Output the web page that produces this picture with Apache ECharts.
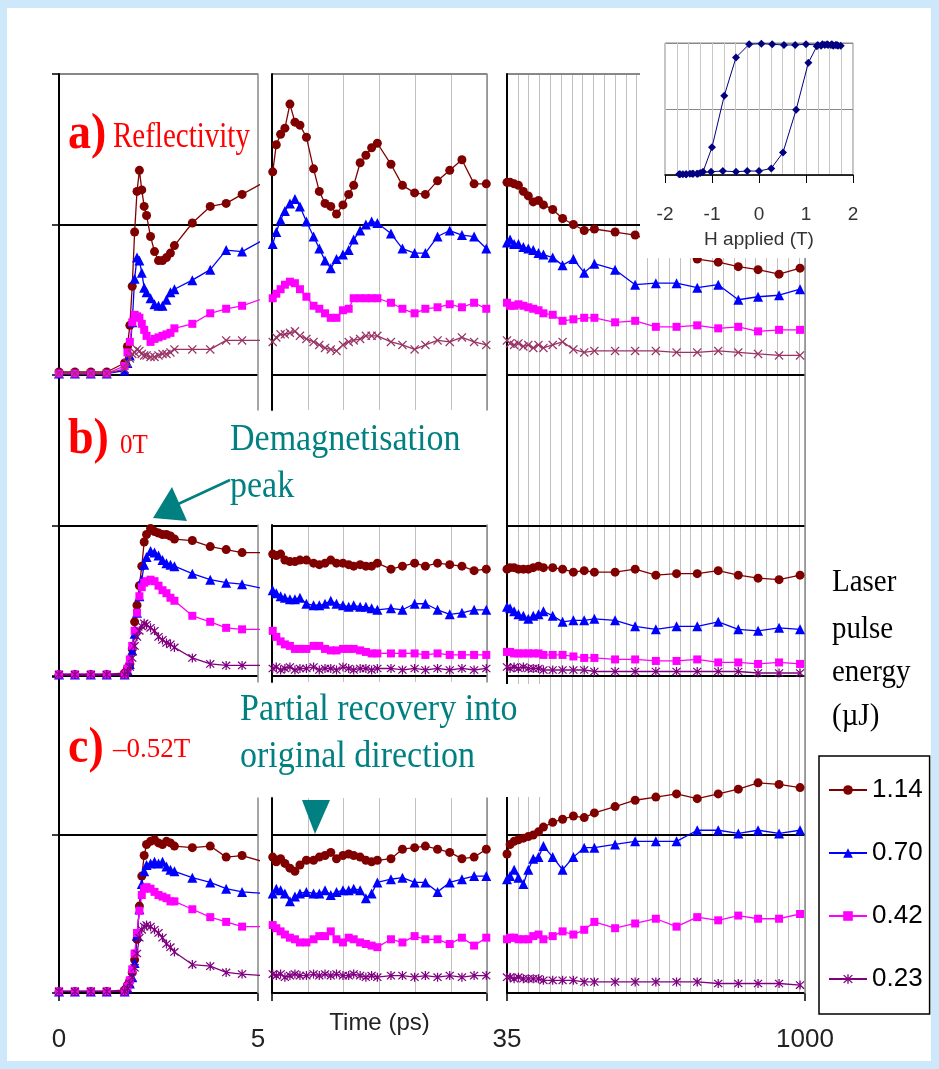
<!DOCTYPE html>
<html><head><meta charset="utf-8">
<script src="https://cdn.jsdelivr.net/npm/echarts@6/dist/echarts.min.js"></script>
<style>
html,body{margin:0;padding:0;background:#cde8fa;width:939px;height:1069px;overflow:hidden;}
#frame{position:absolute;left:7px;top:8px;width:924px;height:1053px;background:#fff;}
#chart{position:absolute;left:0;top:0;width:939px;height:1069px;}
</style></head><body><div id="frame"></div><div id="chart"></div>
<script>
// ---------------- DATA ----------------
const energies = ['1.14','0.70','0.42','0.23'];
// time samples (ps) for the three x segments
const T1 = [0,0.4,0.8,1.2,1.65,1.72,1.78,1.84,1.9,1.96,2.02,2.08,2.14,2.2,2.3,2.4,2.5,2.6,2.7,2.8,2.9,3.35,3.8,4.2,4.6,5.15];
const T2 = [5.1,5.6,6.2,6.8,7.5,8.2,8.9,9.8,10.8,11.6,12.4,13.2,14.0,14.9,15.7,16.4,17.3,18.1,18.9,19.7,21.6,23.2,24.9,26.4,28.1,29.8,31.5,33.2,34.9];
const T3 = [35,45,58,72,88,104,120,137,153,183,215,250,285,318,385,450,517,584,651,719,784,848,916,984];
const xTickLabels = [[0,5],[],[35,1000]];
// panel a) Reflectivity
const a1_114 = [0.02,0.02,0.02,0.02,0.08,0.19,0.33,0.59,0.95,1.22,1.36,1.23,1.12,1.06,0.92,0.82,0.76,0.76,0.78,0.81,0.86,1.01,1.12,1.14,1.20,1.28];
const a1_070 = [0.01,0.01,0.01,0.01,0.03,0.08,0.13,0.35,0.64,0.78,0.76,0.68,0.58,0.55,0.51,0.47,0.46,0.46,0.50,0.55,0.57,0.63,0.70,0.83,0.82,0.90];
const a1_042 = [0.01,0.01,0.01,0.01,0.06,0.15,0.22,0.35,0.40,0.39,0.38,0.34,0.30,0.26,0.22,0.24,0.25,0.26,0.27,0.28,0.31,0.34,0.41,0.44,0.46,0.51];
const a1_023 = [0.01,0.01,0.01,0.01,0.04,0.08,0.11,0.14,0.15,0.17,0.16,0.14,0.13,0.13,0.12,0.12,0.13,0.14,0.14,0.15,0.17,0.17,0.17,0.23,0.23,0.23];
const a2_114 = [1.35,1.53,1.60,1.64,1.80,1.68,1.66,1.58,1.37,1.22,1.14,1.12,1.07,1.13,1.20,1.26,1.41,1.46,1.51,1.54,1.40,1.26,1.21,1.20,1.29,1.36,1.43,1.27,1.27];
const a2_070 = [0.87,0.95,1.03,1.09,1.14,1.17,1.12,1.02,0.92,0.84,0.76,0.71,0.77,0.80,0.83,0.90,0.96,1.00,1.02,1.01,0.94,0.84,0.81,0.81,0.92,0.96,0.93,0.92,0.84];
const a2_042 = [0.51,0.54,0.57,0.60,0.62,0.61,0.57,0.52,0.46,0.44,0.41,0.38,0.38,0.43,0.44,0.51,0.51,0.51,0.51,0.51,0.48,0.44,0.41,0.44,0.45,0.47,0.45,0.48,0.44];
const a2_023 = [0.22,0.25,0.27,0.27,0.28,0.29,0.26,0.24,0.22,0.20,0.18,0.17,0.16,0.20,0.22,0.23,0.24,0.26,0.26,0.26,0.22,0.20,0.17,0.20,0.23,0.22,0.25,0.22,0.20];
const a3_114 = [1.28,1.28,1.27,1.26,1.22,1.19,1.15,1.16,1.13,1.10,1.04,1.00,0.96,0.97,0.95,0.93,0.88,0.82,0.77,0.75,0.72,0.70,0.67,0.71];
const a3_070 = [0.88,0.90,0.87,0.87,0.85,0.84,0.83,0.81,0.80,0.78,0.73,0.77,0.68,0.74,0.70,0.60,0.61,0.61,0.58,0.60,0.50,0.52,0.53,0.57];
const a3_042 = [0.48,0.46,0.46,0.47,0.46,0.45,0.44,0.43,0.41,0.40,0.36,0.37,0.38,0.38,0.35,0.36,0.32,0.32,0.33,0.31,0.32,0.29,0.30,0.30];
const a3_023 = [0.23,0.21,0.20,0.21,0.19,0.20,0.18,0.20,0.18,0.20,0.22,0.17,0.15,0.16,0.16,0.16,0.16,0.15,0.15,0.16,0.15,0.14,0.13,0.13];
// panel b) 0T
const b1_114 = [0.01,0.01,0.01,0.01,0.02,0.05,0.08,0.18,0.36,0.47,0.60,0.73,0.89,0.94,0.98,0.96,0.95,0.94,0.94,0.93,0.91,0.90,0.86,0.84,0.82,0.82];
const b1_070 = [0.01,0.01,0.01,0.01,0.01,0.04,0.08,0.17,0.28,0.42,0.53,0.64,0.74,0.79,0.83,0.82,0.80,0.77,0.75,0.74,0.73,0.68,0.64,0.62,0.61,0.58];
const b1_042 = [0.01,0.01,0.01,0.01,0.01,0.05,0.11,0.20,0.30,0.42,0.53,0.59,0.62,0.63,0.64,0.63,0.60,0.57,0.55,0.52,0.50,0.40,0.36,0.32,0.31,0.31];
const b1_023 = [0.01,0.01,0.01,0.01,0.01,0.03,0.06,0.12,0.20,0.26,0.30,0.33,0.35,0.34,0.32,0.30,0.26,0.24,0.22,0.21,0.19,0.12,0.08,0.07,0.07,0.07];
const b2_114 = [0.81,0.80,0.81,0.77,0.76,0.76,0.77,0.77,0.75,0.74,0.75,0.77,0.75,0.75,0.74,0.73,0.74,0.73,0.73,0.75,0.71,0.73,0.75,0.73,0.75,0.74,0.73,0.70,0.71];
const b2_070 = [0.57,0.55,0.53,0.52,0.51,0.51,0.52,0.48,0.47,0.47,0.48,0.50,0.48,0.47,0.46,0.47,0.46,0.46,0.45,0.44,0.45,0.44,0.48,0.48,0.44,0.41,0.42,0.44,0.44];
const b2_042 = [0.30,0.26,0.23,0.21,0.20,0.18,0.18,0.18,0.20,0.20,0.18,0.17,0.17,0.18,0.18,0.18,0.17,0.16,0.15,0.15,0.15,0.15,0.15,0.14,0.15,0.14,0.14,0.14,0.14];
const b2_023 = [0.05,0.06,0.04,0.05,0.06,0.04,0.05,0.05,0.06,0.04,0.05,0.05,0.04,0.06,0.05,0.04,0.05,0.05,0.04,0.05,0.05,0.04,0.05,0.04,0.05,0.04,0.05,0.04,0.05];
const b3_114 = [0.71,0.72,0.72,0.71,0.71,0.71,0.72,0.73,0.72,0.72,0.71,0.69,0.70,0.69,0.69,0.71,0.67,0.68,0.68,0.70,0.67,0.65,0.64,0.67];
const b3_070 = [0.46,0.45,0.43,0.41,0.40,0.38,0.40,0.41,0.43,0.40,0.36,0.37,0.37,0.38,0.37,0.33,0.31,0.33,0.33,0.36,0.31,0.30,0.32,0.31];
const b3_042 = [0.16,0.16,0.15,0.15,0.15,0.15,0.15,0.15,0.14,0.14,0.14,0.13,0.12,0.12,0.11,0.11,0.10,0.10,0.11,0.09,0.09,0.08,0.09,0.08];
const b3_023 = [0.06,0.05,0.06,0.05,0.06,0.05,0.05,0.05,0.04,0.04,0.04,0.04,0.04,0.03,0.03,0.03,0.03,0.03,0.03,0.03,0.03,0.02,0.02,0.02];
// panel c) -0.52T
const c1_114 = [0.01,0.01,0.01,0.01,0.02,0.05,0.08,0.13,0.21,0.34,0.55,0.74,0.87,0.94,0.96,0.97,0.95,0.94,0.96,0.95,0.93,0.92,0.93,0.86,0.87,0.83];
const c1_070 = [0.01,0.01,0.01,0.01,0.01,0.03,0.06,0.10,0.19,0.36,0.53,0.69,0.77,0.81,0.82,0.83,0.82,0.83,0.80,0.78,0.77,0.73,0.70,0.66,0.64,0.63];
const c1_042 = [0.01,0.01,0.01,0.01,0.01,0.04,0.08,0.15,0.25,0.38,0.52,0.62,0.66,0.67,0.66,0.64,0.62,0.61,0.60,0.58,0.58,0.53,0.48,0.45,0.42,0.42];
const c1_023 = [0.01,0.01,0.01,0.01,0.01,0.03,0.06,0.10,0.16,0.25,0.35,0.40,0.42,0.43,0.42,0.40,0.38,0.35,0.31,0.29,0.26,0.18,0.17,0.13,0.12,0.11];
const c2_114 = [0.86,0.83,0.85,0.82,0.79,0.77,0.81,0.84,0.84,0.86,0.87,0.89,0.85,0.87,0.88,0.87,0.86,0.84,0.83,0.84,0.85,0.91,0.92,0.93,0.91,0.89,0.85,0.86,0.91];
const c2_070 = [0.63,0.66,0.65,0.63,0.58,0.61,0.63,0.64,0.63,0.63,0.65,0.62,0.64,0.65,0.65,0.66,0.65,0.60,0.63,0.70,0.72,0.73,0.70,0.70,0.64,0.70,0.72,0.74,0.74];
const c2_042 = [0.43,0.41,0.39,0.37,0.35,0.34,0.32,0.32,0.34,0.36,0.36,0.39,0.34,0.32,0.35,0.34,0.32,0.31,0.30,0.29,0.34,0.32,0.36,0.34,0.34,0.31,0.35,0.30,0.35];
const c2_023 = [0.12,0.11,0.12,0.10,0.11,0.12,0.11,0.11,0.12,0.11,0.12,0.11,0.12,0.11,0.11,0.12,0.11,0.10,0.11,0.10,0.11,0.11,0.10,0.11,0.10,0.11,0.10,0.11,0.11];
const c3_114 = [0.88,0.94,0.96,0.97,0.98,0.99,1.00,1.02,1.05,1.08,1.10,1.12,1.11,1.14,1.18,1.22,1.24,1.26,1.23,1.26,1.29,1.33,1.32,1.30];
const c3_070 = [0.72,0.74,0.78,0.73,0.69,0.78,0.85,0.86,0.93,0.86,0.78,0.86,0.92,0.92,0.94,0.96,0.96,0.96,1.03,1.03,1.01,1.03,1.01,1.03];
const c3_042 = [0.34,0.35,0.35,0.34,0.34,0.34,0.36,0.37,0.34,0.36,0.39,0.37,0.40,0.45,0.41,0.44,0.47,0.42,0.48,0.46,0.49,0.47,0.47,0.50];
const c3_023 = [0.10,0.10,0.09,0.10,0.09,0.09,0.09,0.09,0.08,0.08,0.08,0.08,0.07,0.07,0.07,0.07,0.07,0.07,0.07,0.06,0.06,0.06,0.06,0.05];
// inset: hysteresis loop
const hystH = [-1.70,-1.62,-1.55,-1.47,-1.40,-1.32,-1.25,-1.02,-0.77,-0.49,-0.25,0.00,0.26,0.51,0.79,1.05,1.23,1.32,1.40,1.47,1.53,1.58,1.63,1.68,1.74,
               1.66,1.55,1.45,1.35,1.25,1.00,0.77,0.53,0.28,0.05,-0.21,-0.49,-0.74,-1.00,-1.19,-1.30,-1.42,-1.55,-1.68];
const hystM = [-0.99,-0.99,-0.99,-0.98,-0.98,-0.98,-0.97,-0.95,-0.94,-0.95,-0.94,-0.94,-0.90,-0.66,-0.01,0.70,0.95,0.96,0.97,0.97,0.97,0.96,0.97,0.96,0.96,
               0.97,0.98,0.98,0.98,0.97,0.98,0.97,0.97,0.98,0.99,0.98,0.78,0.20,-0.58,-0.95,-0.98,-0.98,-0.99,-0.99];

// ---------------- LAYOUT / STYLE ----------------
const TS = [T1,T2,T3];
const X_SEG = [[59,258],[272,487],[507,805]];
const AX_RANGE = [[0,5],[5,35],[35,1000]];
const Y_PANEL = [[74,375],[375,676],[677,993]];
const FRAME_Y = [[74,410],[525,682],[798,993]];
const PANELS = [
  {key:'b', lines:['#000','#000','rgba(0,0,0,0)'], data:[[b1_114,b1_070,b1_042,b1_023],[b2_114,b2_070,b2_042,b2_023],[b3_114,b3_070,b3_042,b3_023]], p:1},
  {key:'c', lines:['#000','#000','rgba(0,0,0,0)'], data:[[c1_114,c1_070,c1_042,c1_023],[c2_114,c2_070,c2_042,c2_023],[c3_114,c3_070,c3_042,c3_023]], p:2},
  {key:'a', lines:['#000','#000','#888'], data:[[a1_114,a1_070,a1_042,a1_023],[a2_114,a2_070,a2_042,a2_023],[a3_114,a3_070,a3_042,a3_023]], p:0}
];
const XMARK = 'path://M1,0 L5,4 L9,0 L10,1 L6,5 L10,9 L9,10 L5,6 L1,10 L0,9 L4,5 L0,1 Z';
const STAR = 'path://M1,0 L5,4 L9,0 L10,1 L6,5 L10,9 L9,10 L5,6 L1,10 L0,9 L4,5 L0,1 Z M4.3,-0.5 L5.7,-0.5 L5.7,10.5 L4.3,10.5 Z';
function styleFor(e, panelKey){
  if(e===0) return {symbol:'circle', size:9, color:'#800000'};
  if(e===1) return {symbol:'triangle', size:10, color:'#0000ff'};
  if(e===2) return {symbol:'rect', size:8, color:'#ff00ff'};
  return panelKey==='a' ? {symbol:XMARK, size:9, color:'#993366'} : {symbol:STAR, size:9, color:'#800080'};
}

const OFF = {show:false};
const grids=[], xAxis=[], yAxis=[], series=[];
function grid(l,t,r,b,extra){grids.push(Object.assign({left:l,top:t,width:r-l,height:b-t},extra||{}));return grids.length-1;}
function xa(gi,o){xAxis.push(Object.assign({type:'value',gridIndex:gi,axisLine:OFF,axisTick:OFF,axisLabel:OFF,splitLine:OFF},o));return xAxis.length-1;}
function ya(gi,o){yAxis.push(Object.assign({type:'value',gridIndex:gi,min:0,max:1,axisLine:OFF,axisTick:OFF,axisLabel:OFF,splitLine:OFF},o));return yAxis.length-1;}
const blackAxis = {show:true,onZero:false,lineStyle:{color:'#000',width:2}};
const grayAxis = {show:true,onZero:false,lineStyle:{color:'#888',width:1.5}};
const vGrid = {show:true,lineStyle:{color:'#c0c0c0',width:1}};

// frames: continuous left axis of segment 1, continuous segment 3 frame
let g = grid(X_SEG[0][0],74,X_SEG[0][1],993); xa(g,{min:0,max:5}); ya(g,{z:1,axisLine:blackAxis});
g = grid(X_SEG[2][0],74,X_SEG[2][1],993); xa(g,{min:35,max:1000,interval:35,splitLine:vGrid});
ya(g,{z:1,axisLine:blackAxis}); ya(g,{position:'right',z:1,axisLine:grayAxis});
FRAME_Y.forEach(fy=>{
  let g1 = grid(X_SEG[0][0],fy[0],X_SEG[0][1],fy[1]); xa(g1,{min:0,max:5}); ya(g1,{position:'right',z:1,axisLine:grayAxis});
  let g2 = grid(X_SEG[1][0],fy[0],X_SEG[1][1],fy[1]); xa(g2,{min:5,max:35,interval:5,splitLine:vGrid});
  ya(g2,{z:1,axisLine:blackAxis}); ya(g2,{position:'right',z:1,axisLine:grayAxis});
});

// data grids
const labelFont = {fontFamily:'Liberation Sans',fontSize:26,color:'#222'};
PANELS.forEach(P=>{
  const py = Y_PANEL[P.p];
  for(let s=0;s<3;s++){
    const gi = grid(X_SEG[s][0],py[0],X_SEG[s][1],py[1]);
    const xo = {min:AX_RANGE[s][0],max:AX_RANGE[s][1]};
    if(P.p===2){
      xo.axisTick = {show:true,inside:false,length:8,customValues:AX_RANGE[s],lineStyle:{color:'#000',width:1.5}};
      if(xTickLabels[s].length) xo.axisLabel = Object.assign({show:true,margin:34,customValues:xTickLabels[s],formatter:v=>String(v)},labelFont);
      if(s===1){ xo.name='Time (ps)'; xo.nameLocation='middle'; xo.nameGap=18; xo.nameTextStyle={fontFamily:'Liberation Sans',fontSize:24,color:'#222'}; }
    }
    const xi = xa(gi,xo);
    const yi = ya(gi,{min:0,max:2,interval:1,z:1,
      splitLine:{show:true,lineStyle:{color:P.lines,width:2}},
      axisTick: s===0 ? {show:true,inside:false,length:7,lineStyle:{color:'#000',width:1.5}} : OFF});
    P.data[s].forEach((vals,e)=>{
      const st = styleFor(e,P.key);
      series.push({type:'line',name:energies[e],xAxisIndex:xi,yAxisIndex:yi,
        data:TS[s].map((t,i)=>[t,vals[i]]),symbol:st.symbol,symbolSize:st.size,showAllSymbol:true,
        itemStyle:{color:st.color},lineStyle:{color:st.color,width:1.3},z:3,clip:true});
    });
  }
});

// inset hysteresis
g = grid(665,43,853,175,{show:true,borderColor:'#888',borderWidth:1,backgroundColor:'rgba(0,0,0,0)',z:60});
const ixi = xa(g,{min:-2,max:2,interval:1,z:61,
  axisLine:{show:true,onZero:false,lineStyle:{color:'#000',width:1.5}},
  axisTick:{show:true,length:8,lineStyle:{color:'#000'}},
  axisLabel:{show:true,fontSize:19,fontFamily:'Liberation Sans',color:'#333',margin:30},
  splitLine:{show:true,lineStyle:{color:'#c8c8c8'}},
  minorTick:{show:false,splitNumber:4},
  minorSplitLine:{show:true,lineStyle:{color:'#c8c8c8'}},
  name:'H applied (T)',nameLocation:'middle',nameGap:55,
  nameTextStyle:{fontSize:19,fontFamily:'Liberation Sans',color:'#333'}});
const iyi = ya(g,{min:-1,max:1,interval:1,z:61,splitLine:{show:true,lineStyle:{color:'#888',width:1.2}}});
series.push({type:'line',name:'hysteresis',xAxisIndex:ixi,yAxisIndex:iyi,
  data:hystH.map((h,i)=>[h,hystM[i]]),symbol:'diamond',symbolSize:8,
  itemStyle:{color:'#000080'},lineStyle:{color:'#000080',width:1},z:70});

function txt(x,y,text,font,fill,sy){
  return {type:'text',x:x,y:y,scaleY:sy||1,z:55,
    style:{text:text,font:font,fill:fill,textAlign:'left',textVerticalAlign:'middle',align:'left',verticalAlign:'middle'}};
}
const RED='#ff0000', TEAL='#008080';
const SERIF='"Liberation Serif", "Times New Roman", serif';
const graphic = [
  {type:'rect',shape:{x:640,y:28,width:232,height:230},style:{fill:'#fff'},z:50},
  {type:'rect',shape:{x:232,y:684,width:318,height:113},style:{fill:'#fff'},z:50},
  txt(68,135,'a)','bold 46px '+SERIF,RED,1.12),
  txt(113,138,'Reflectivity','29px '+SERIF,RED,1.2),
  txt(68,440,'b)','bold 46px '+SERIF,RED,1.12),
  txt(120,446,'0T','25px '+SERIF,RED,1.1),
  txt(68,749,'c)','bold 46px '+SERIF,RED,1.12),
  txt(113,750,'\u20130.52T','27px '+SERIF,RED,1.05),
  txt(230,440,'Demagnetisation','34px '+SERIF,TEAL,1.12),
  txt(230,487,'peak','34px '+SERIF,TEAL,1.12),
  txt(240,710,'Partial recovery into','34px '+SERIF,TEAL,1.12),
  txt(240,757,'original direction','34px '+SERIF,TEAL,1.12),
  txt(832,583,'Laser','29px '+SERIF,'#000',1.1),
  txt(832,630,'pulse','29px '+SERIF,'#000',1.1),
  txt(832,673,'energy','29px '+SERIF,'#000',1.1),
  txt(832,717,'(\u00b5J)','29px '+SERIF,'#000',1.1),
  {type:'line',shape:{x1:230,y1:480,x2:176,y2:505},style:{stroke:TEAL,lineWidth:2.5},z:55},
  {type:'polygon',shape:{points:[[153,518],[172,487],[187,521]]},style:{fill:TEAL},z:55},
  {type:'polygon',shape:{points:[[302,800],[330,800],[315,834]]},style:{fill:TEAL},z:55}
];

const chart = echarts.init(document.getElementById('chart'),null,{renderer:'canvas'});
chart.setOption({
  backgroundColor:'rgba(0,0,0,0)',
  animation:false,
  grid:grids, xAxis:xAxis, yAxis:yAxis, series:series, graphic:graphic,
  legend:{data:energies,orient:'vertical',left:819,top:756,itemWidth:38,itemHeight:12,itemGap:33,
    padding:[19,7,20,9],borderColor:'#000',borderWidth:1.5,selectedMode:false,
    textStyle:{fontFamily:'Liberation Sans',fontSize:26,color:'#000',lineHeight:30}}
});
</script></body></html>
